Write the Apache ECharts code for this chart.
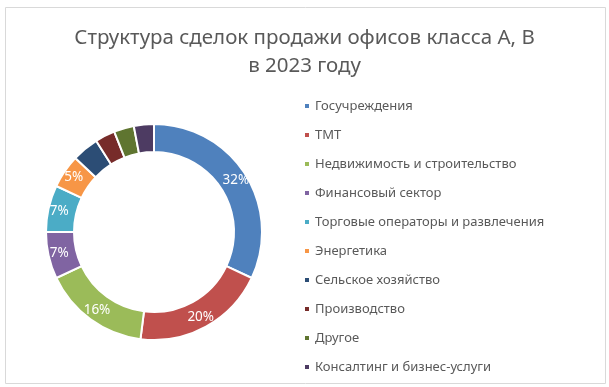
<!DOCTYPE html>
<html>
<head>
<meta charset="utf-8">
<script src="https://cdn.jsdelivr.net/npm/echarts@6/dist/echarts.min.js"></script>
<style>html,body{margin:0;padding:0;background:#fff}#c{width:609px;height:387px}</style>
</head>
<body>
<div id="c"></div>
<script>
const titleText = 'Структура сделок продажи офисов класса А, В\nв 2023 году';
const categories = ['Госучреждения','ТМТ','Недвижимость и строительство','Финансовый сектор','Торговые операторы и развлечения','Энергетика','Сельское хозяйство','Производство','Другое','Консалтинг и бизнес-услуги'];
const values = [32, 20, 16, 7, 7, 5, 4, 3, 3, 3];
const colors = ['#4F81BD','#C0504D','#9BBB59','#8064A2','#4BACC6','#F79646','#2C4D75','#772C2A','#5F7530','#4D3B62'];

const chart = echarts.init(document.getElementById('c'), null, {renderer:'canvas'});
const font = '"Noto Sans", "Open Sans", sans-serif';
chart.setOption({
  animation: false,
  color: colors,
  graphic: [{
    type: 'rect', left: 3, top: 5,
    shape: {width: 600, height: 376},
    style: {fill: 'none', stroke: '#D9D9D9', lineWidth: 1}
  }],
  title: {
    text: titleText,
    left: 'center', top: 19,
    textStyle: {fontFamily: font, fontSize: 20.5, fontWeight: 'normal', color: '#595959', lineHeight: 28}
  },
  legend: {
    orient: 'vertical',
    left: 298, top: 93,
    icon: 'rect', itemWidth: 6, itemHeight: 6, itemGap: 13,
    textStyle: {fontFamily: font, fontSize: 13, color: '#595959', lineHeight: 16},
    data: categories
  },
  series: [{
    type: 'pie',
    center: [154, 232],
    radius: [80, 108],
    startAngle: 90,
    clockwise: true,
    itemStyle: {borderColor: '#fff', borderWidth: 2},
    label: {
      show: true, position: 'inside',
      formatter: p => p.value >= 5 ? p.value + '%' : '',
      color: '#fff', fontFamily: font, fontSize: 13.5
    },
    labelLine: {show: false},
    emphasis: {disabled: true},
    data: categories.map((n, i) => ({name: n, value: values[i]}))
  }]
});
</script>
</body>
</html>
